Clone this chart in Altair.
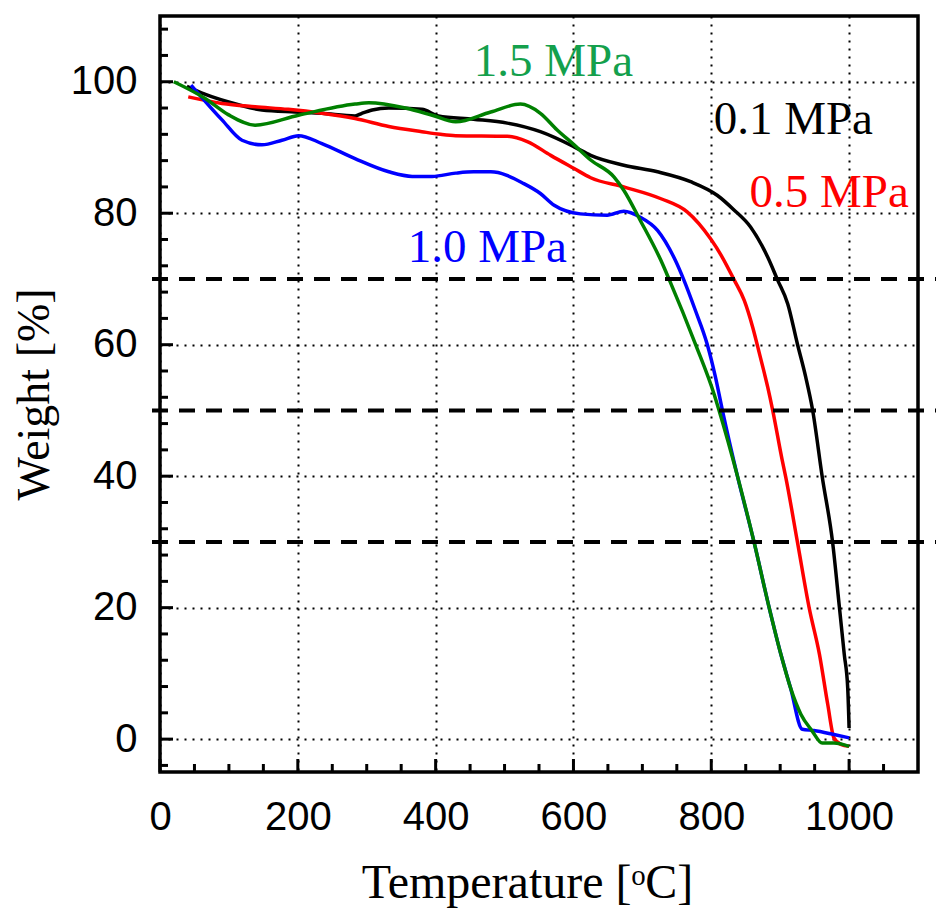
import altair as alt
import pandas as pd

# ---------------- data ----------------
SERIES = ["0.1 MPa", "0.5 MPa", "1.0 MPa", "1.5 MPa"]

T_01 = [39, 65, 114, 148, 196, 235, 283, 293, 308, 332, 380, 404, 455, 504, 552,
        601, 625, 673, 722, 770, 809, 833, 857, 882, 896, 911, 925, 937, 947, 961,
        976, 986, 993, 998, 1000]
W_01 = [99.3, 98.1, 96.5, 95.7, 95.4, 95.2, 94.8, 95.2, 95.7, 96.0, 95.8, 94.8, 94.3,
        93.7, 92.4, 90.1, 88.8, 87.3, 86.3, 84.8, 82.7, 80.5, 77.9, 73.3, 69.9, 66.2,
        60.1, 55.1, 50.1, 39.9, 30.0, 20.0, 12.9, 7.8, 1.7]

T_05 = [41, 90, 138, 186, 235, 283, 332, 380, 407, 429, 504, 533, 567, 601, 625, 673,
        727, 765, 799, 816, 833, 848, 860, 870, 882, 889, 903, 908, 925, 942, 957, 969,
        978, 988, 1000]
W_05 = [97.7, 96.7, 96.2, 95.8, 95.2, 94.4, 93.2, 92.4, 92.0, 91.8, 91.7, 90.9, 88.8,
        86.8, 85.4, 84.0, 82.2, 80.2, 76.1, 73.3, 69.9, 66.7, 62.7, 58.6, 53.5, 50.1,
        42.4, 39.9, 30.0, 20.0, 12.9, 5.3, 0.2, -0.8, -1.1]

T_10 = [45, 90, 119, 148, 177, 201, 235, 283, 332, 366, 395, 429, 455, 480, 528, 552,
        572, 610, 649, 673, 697, 722, 748, 760, 777, 794, 806, 816, 838, 862, 884, 901,
        915, 932, 949, 978, 1000]
W_10 = [99.5, 94.2, 91.1, 90.4, 91.1, 91.8, 90.6, 88.3, 86.3, 85.6, 85.6, 86.1, 86.3,
        86.3, 84.5, 83.0, 81.2, 79.9, 79.7, 80.3, 79.4, 77.4, 72.8, 69.9, 65.2, 60.1,
        55.1, 50.1, 40.0, 30.0, 20.0, 12.9, 7.8, 1.5, 1.3, 0.7, 0.2]

T_15 = [20, 65, 99, 138, 201, 283, 303, 356, 395, 429, 480, 523, 552, 576, 601, 625,
        659, 673, 697, 727, 739, 777, 804, 811, 838, 862, 884, 901, 915, 930, 946, 961,
        978, 1000]
W_15 = [100.0, 97.5, 95.0, 93.4, 94.9, 96.6, 96.8, 96.0, 94.9, 93.9, 95.4, 96.6, 95.2,
        92.7, 90.4, 88.1, 85.5, 83.5, 78.9, 72.8, 69.9, 60.1, 52.5, 50.1, 40.0, 30.0,
        20.0, 12.9, 7.8, 3.8, 1.3, -0.6, -0.6, -1.1]

# annotation positions (data units)
LABEL_T = [919, 971, 475, 571]
LABEL_W = [94.2, 83.1, 74.7, 103.0]

REF_LEVELS = [70, 50, 30]

X_MAJOR = [0, 200, 400, 600, 800, 1000]
X_MINOR = [50, 100, 150, 250, 300, 350, 450, 500, 550, 650, 700, 750, 850, 900, 950, 1050]
Y_MAJOR = [0, 20, 40, 60, 80, 100]
Y_MINOR = [-4, 4, 8, 12, 16, 24, 28, 32, 36, 44, 48, 52, 56, 64, 68, 72, 76,
           84, 88, 92, 96, 104, 108]

LINE_COLORS = ["#000000", "#ff0000", "#0000ff", "#008000"]
LABEL_COLORS = ["#000000", "#ff0000", "#0000ff", "#14a04c"]

# ---------------- tables ----------------
rows = []
for name, ts, ws in zip(SERIES, [T_01, T_05, T_10, T_15], [W_01, W_05, W_10, W_15]):
    for t, w in zip(ts, ws):
        rows.append({"series": name, "T": t, "W": w})
df = pd.DataFrame(rows)
lab_df = pd.DataFrame({"series": SERIES, "T": LABEL_T, "W": LABEL_W})
ref_df = pd.DataFrame({"level": REF_LEVELS})

W, H = 758, 756
MAJOR_LEN, MINOR_LEN = 13, 8
xs = alt.Scale(domain=[0, 1100], nice=False, zero=False)
ys = alt.Scale(domain=[-5, 110], nice=False, zero=False)

SANS = "Liberation Sans"
SERIF = "Liberation Serif"

lines = alt.Chart(df).mark_line(strokeWidth=3.5, interpolate="monotone").encode(
    x=alt.X("T:Q", scale=xs, axis=alt.Axis(
        orient="bottom", values=X_MAJOR, format="d", title="Temperature [ᵒC]", grid=True,
        ticks=False, tickSize=0, domain=False, labelPadding=25, titlePadding=22,
        labelFlush=False, titleX=367,
        labelFont=SANS, labelFontSize=40, labelColor="black",
        titleFont=SERIF, titleFontSize=48, titleFontWeight="normal", titleColor="black",
        gridColor="black", gridDash=[2, 6], gridWidth=2, gridOpacity=1)),
    y=alt.Y("W:Q", scale=ys, axis=alt.Axis(
        orient="left", values=Y_MAJOR, format="d", title="Weight [%]", grid=True,
        ticks=False, tickSize=0, domain=False, labelPadding=23, titlePadding=12,
        labelFlush=False,
        labelFont=SANS, labelFontSize=40, labelColor="black",
        titleFont=SERIF, titleFontSize=46, titleFontWeight="normal", titleColor="black",
        gridColor="black", gridDash=[2, 6], gridWidth=2, gridOpacity=1)),
    color=alt.Color("series:N", scale=alt.Scale(domain=SERIES, range=LINE_COLORS), legend=None),
)

# inward tick marks along the bottom and left edges
def x_ticks(vals, length):
    return alt.Chart(pd.DataFrame({"v": vals})).mark_rule(color="black", strokeWidth=3).encode(
        x=alt.X("v:Q", scale=xs, axis=None),
        y=alt.value(H),
        y2=alt.value(H - length),
    )

def y_ticks(vals, length):
    return alt.Chart(pd.DataFrame({"v": vals})).mark_rule(color="black", strokeWidth=3).encode(
        y=alt.Y("v:Q", scale=ys, axis=None),
        x=alt.value(0),
        x2=alt.value(length),
    )

ticks = [x_ticks(X_MAJOR, MAJOR_LEN), x_ticks(X_MINOR, MINOR_LEN),
         y_ticks(Y_MAJOR, MAJOR_LEN), y_ticks(Y_MINOR, MINOR_LEN)]

rules = alt.Chart(ref_df).mark_rule(color="black", strokeWidth=4, strokeDash=[16, 11]).encode(
    y=alt.Y("level:Q", scale=ys, axis=None),
    x=alt.value(-8),
    x2=alt.value(W + 18),
)

texts = alt.Chart(lab_df).mark_text(font=SERIF, fontSize=47, baseline="middle", align="center").encode(
    x=alt.X("T:Q", scale=xs, axis=None),
    y=alt.Y("W:Q", scale=ys, axis=None),
    text="series:N",
    color=alt.Color("series:N", scale=alt.Scale(domain=SERIES, range=LABEL_COLORS), legend=None),
)

chart = alt.layer(lines, *ticks, rules, texts).resolve_axis(
    x="independent", y="independent"
).resolve_scale(color="independent").properties(
    width=W, height=H, autosize="none", background="white",
    padding={"left": 160, "top": 16, "right": 18, "bottom": 140},
).configure_view(stroke="black", strokeWidth=3.5)

chart.save("out.html", embed_options={"renderer": "svg", "actions": False})
